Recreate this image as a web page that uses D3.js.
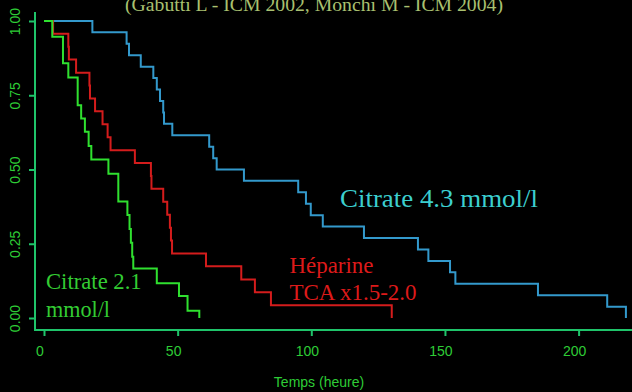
<!DOCTYPE html>
<html>
<head>
<meta charset="utf-8">
<script src="https://cdn.jsdelivr.net/npm/d3@7/dist/d3.min.js"></script>
<style>
  html, body { margin: 0; padding: 0; background: #000; }
  svg { display: block; }
</style>
</head>
<body>
<svg id="chart" width="632" height="392"></svg>
<script>
// Kaplan-Meier survival of the filter, by anticoagulation regimen
const xTicks = [0, 50, 100, 150, 200];
const yTicks = [0, 0.25, 0.5, 0.75, 1];
const yTickLabels = ["0.00", "0.25", "0.50", "0.75", "1.00"];

// Citrate 4.3 mmol/l
const citrate43Time = [0, 18.1, 30.9, 31.8, 36.2, 40.9, 42.2, 43.4, 44.6, 44.9, 48.0,
  61.8, 63.3, 64.6, 74.8, 95.1, 98.0, 99.8, 104.3, 119.7, 139.9, 143.8, 151.9,
  153.9, 184.8, 210.7, 217.7];
const citrate43Surv = [1, 0.962, 0.923, 0.885, 0.846, 0.808, 0.769, 0.731, 0.692, 0.654, 0.615,
  0.577, 0.538, 0.500, 0.462, 0.423, 0.385, 0.346, 0.308, 0.269, 0.231, 0.192, 0.154,
  0.115, 0.077, 0.038, 0];

// Héparine, TCA x1.5-2.0
const heparineTime = [0, 3.4, 9.1, 9.3, 12.0, 17.0, 17.2, 19.1, 21.9, 23.8, 24.9, 34.0,
  40.0, 40.2, 44.6, 46.1, 47.1, 47.5, 47.9, 60.6, 73.8, 78.9, 84.9, 130.1];
const heparineSurv = [1, 0.957, 0.913, 0.870, 0.826, 0.783, 0.739, 0.696, 0.652, 0.609, 0.565, 0.522,
  0.478, 0.435, 0.391, 0.348, 0.304, 0.261, 0.217, 0.174, 0.130, 0.087, 0.043, 0];

// Citrate 2.1 mmol/l
const citrate21Time = [0, 3.1, 7.1, 9.1, 12.6, 13.9, 15.3, 16.7, 17.7, 24.1, 27.8, 31.2,
  32.0, 32.5, 33.0, 33.4, 42.2, 50.5, 53.7, 58.1];
const citrate21Surv = [1, 0.947, 0.858, 0.810, 0.716, 0.672, 0.627, 0.579, 0.534, 0.486, 0.392, 0.347,
  0.300, 0.253, 0.206, 0.167, 0.117, 0.074, 0.024, 0];

const titleText = "(Gabutti L - ICM 2002, Monchi M - ICM 2004)";
const xAxisTitle = "Temps (heure)";

const svg = d3.select("#chart");
svg.append("rect").attr("width", 632).attr("height", 392).attr("fill", "#000");

const x = d3.scaleLinear().domain([0, 200]).range([44, 578.6]);
const y = d3.scaleLinear().domain([0, 1]).range([318, 21]);

const axisColor = "#1fc46a";
const tickTextColor = "#2ecc36";
const sans = "'Liberation Sans', Arial, sans-serif";
const serif = "'Liberation Serif', 'Times New Roman', serif";

// L-shaped frame
svg.append("path")
  .attr("d", "M35,12V330H632")
  .attr("fill", "none")
  .attr("stroke", axisColor)
  .attr("stroke-width", 2);

// x axis
const gx = svg.append("g")
  .attr("transform", "translate(0,330)")
  .call(d3.axisBottom(x).tickValues(xTicks).tickSize(6).tickSizeOuter(0).tickFormat(d3.format("d")));
gx.select(".domain").remove();
gx.selectAll(".tick line").attr("stroke", axisColor).attr("stroke-width", 2);
gx.selectAll(".tick text")
  .attr("x", -4.5).attr("y", 26).attr("dy", 0)
  .attr("fill", tickTextColor)
  .style("font-family", sans).style("font-size", "14px");

// y axis, labels parallel to the axis
const gy = svg.append("g")
  .attr("transform", "translate(35,0)")
  .call(d3.axisLeft(y).tickValues(yTicks).tickSize(6).tickSizeOuter(0)
    .tickFormat((d, i) => yTickLabels[i]));
gy.select(".domain").remove();
gy.selectAll(".tick line").attr("stroke", axisColor).attr("stroke-width", 2);
gy.selectAll(".tick text")
  .attr("transform", "rotate(-90)")
  .attr("x", 0).attr("y", -14.7).attr("dy", 0)
  .attr("text-anchor", "middle")
  .attr("fill", tickTextColor)
  .style("font-family", sans).style("font-size", "14px");

// x axis title
svg.append("text")
  .attr("x", 319).attr("y", 386.5)
  .attr("text-anchor", "middle")
  .attr("fill", tickTextColor)
  .style("font-family", sans).style("font-size", "14px")
  .text(xAxisTitle);

// survival curves
const step = d3.line()
  .x(d => x(d[0]))
  .y(d => y(d[1]))
  .curve(d3.curveStepAfter);

const curves = [
  { time: citrate43Time, surv: citrate43Surv, color: "#3399cc" },
  { time: heparineTime, surv: heparineSurv, color: "#d41c1c" },
  { time: citrate21Time, surv: citrate21Surv, color: "#2fe02f" }
];
curves.forEach(c => {
  svg.append("path")
    .datum(c.time.map((t, i) => [t, c.surv[i]]))
    .attr("d", step)
    .attr("fill", "none")
    .attr("stroke", c.color)
    .attr("stroke-width", 2)
    .attr("stroke-linejoin", "miter");
});

// text annotations
function label(txt, px, py, size, color, len) {
  const t = svg.append("text")
    .attr("x", px).attr("y", py)
    .attr("fill", color)
    .style("font-family", serif).style("font-size", size + "px")
    .text(txt);
  if (len) t.attr("textLength", len).attr("lengthAdjust", "spacingAndGlyphs");
  return t;
}
label(titleText, 125, 11, 19.5, "#a9c070", 378);
label("Citrate 4.3 mmol/l", 340, 207, 25.5, "#3ccfcf", 198);
label("Héparine", 289.5, 273, 23, "#dd1a1a", 84);
label("TCA x1.5-2.0", 289.5, 300, 23, "#dd1a1a", 127);
label("Citrate 2.1", 46, 289.3, 23, "#33cc33", 95.7);
label("mmol/l", 46, 316.7, 23, "#33cc33", 64);
</script>
</body>
</html>
